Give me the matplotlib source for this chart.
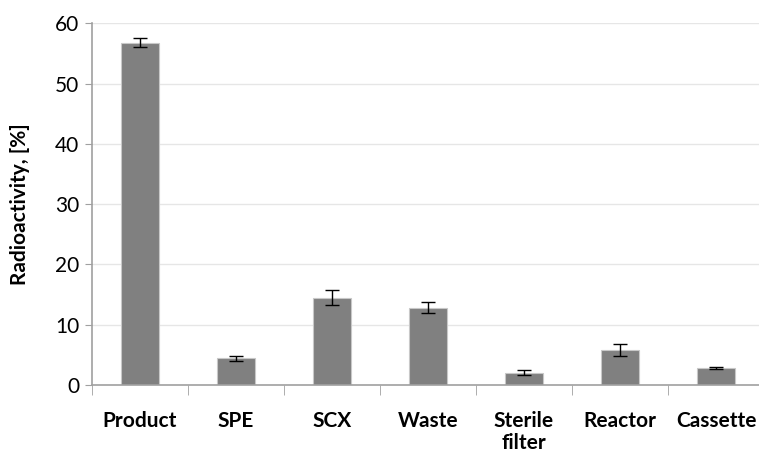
import matplotlib.pyplot as plt
import numpy as np

# radioactivity distribution after synthesis
categories = ['Product', 'SPE', 'SCX', 'Waste', 'Sterile\nfilter', 'Reactor', 'Cassette']
activity = [56.8, 4.4, 14.5, 12.8, 2.05, 5.8, 2.77]
activity_err = [0.8, 0.45, 1.2, 0.9, 0.4, 1.05, 0.15]

plt.rcParams['font.family'] = ['Lato', 'DejaVu Sans']

W, H = 759, 457
fig = plt.figure(figsize=(W / 100, H / 100), dpi=100)
ax = fig.add_axes([92 / W, (H - 385) / H, (764 - 92) / W, (385 - 23.3) / H])

x = np.arange(len(categories))
ax.bar(x, activity, width=0.4, color='#808080', edgecolor='#c8c8c8', linewidth=0.8, zorder=2)
ax.errorbar(x, activity, yerr=activity_err, fmt='none', ecolor='black',
            elinewidth=1.0, capsize=5, capthick=1.0, zorder=3)

ax.set_xlim(-0.5, len(categories) - 0.5)
ax.set_ylim(0, 60)
ax.set_yticks(range(0, 61, 10))
ax.tick_params(axis='y', labelsize=15, length=5, color='#a0a0a0', pad=4)

# category labels sit under the bars, ticks sit on the boundaries
ax.set_xticks(x)
ax.set_xticklabels(categories, fontsize=15, fontweight='bold', linespacing=1.1)
ax.tick_params(axis='x', length=0, pad=19)
ax.set_xticks(np.arange(len(categories) + 1) - 0.5, minor=True)
ax.tick_params(axis='x', which='minor', length=7, color='#a0a0a0')
for lbl in ax.get_xticklabels():
    lbl.set_verticalalignment('top')

ax.grid(axis='y', color='#e6e6e6', linewidth=1.0, zorder=0)
ax.set_axisbelow(True)
for side in ['top', 'right']:
    ax.spines[side].set_visible(False)
for side in ['left', 'bottom']:
    ax.spines[side].set_color('#a0a0a0')
    ax.spines[side].set_linewidth(1.2)

ax.set_ylabel('Radioactivity, [%]', fontsize=15, fontweight='bold', labelpad=18)

fig.savefig('out.png', dpi=100)
